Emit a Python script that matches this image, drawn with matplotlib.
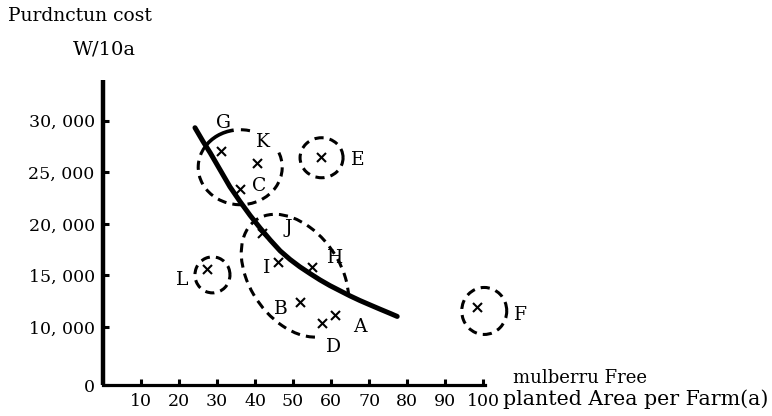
import numpy as np
import matplotlib
matplotlib.use("Agg")
import matplotlib.pyplot as plt
from matplotlib.patches import Arc
from matplotlib.transforms import ScaledTranslation

# ---------------- data ----------------
farm_labels = ["G", "K", "C", "E", "J", "I", "H", "L", "B", "A", "D", "F"]
farm_area = [31.0, 40.5, 36.1, 57.3, 41.8, 46.1, 54.9, 27.3, 51.8, 61.1, 57.6, 98.5]
farm_cost = [27020, 25920, 23400, 26530, 19130, 16310, 15850, 15600, 12460, 11170, 10360, 11970]

curve_area = [24.2, 26.3, 28.2, 30.8, 33.4, 36.1, 38.7, 41.3, 44.0, 46.6, 49.2, 51.8,
              54.5, 57.1, 59.7, 62.4, 65.0, 67.6, 70.3, 72.9, 75.5, 77.4]
curve_cost = [29320, 28000, 26890, 25240, 23590, 22140, 20820, 19610, 18430, 17380, 16550, 15830,
              15170, 14560, 14010, 13500, 13010, 12560, 12130, 11720, 11320, 11020]

x_ticks = [10, 20, 30, 40, 50, 60, 70, 80, 90, 100]
y_ticks = [0, 10000, 15000, 20000, 25000, 30000]
y_tick_labels = ["0", "10, 000", "15, 000", "20, 000", "25, 000", "30, 000"]

# group rings: centre (area, cost)
group_area = [36.1, 57.5, 28.8, 100.3, 50.5]
group_cost = [25490, 26410, 15050, 11550, 14970]

# ---------------- layout / style ----------------
label_offsets = {  # points
    "G": (1.7, 20.7), "K": (4.3, 15.1), "C": (13.7, 2.2), "E": (26.9, -2.4),
    "J": (18.7, 3.6), "H": (16.8, 6.3), "I": (-8.6, -4.3), "L": (-17.8, -7.7),
    "B": (-13.7, -5.3), "A": (18.0, -8.6), "D": (8.1, -17.1), "F": (30.7, -6.0),
}
# ring sizes in inches, angle, arc pieces (theta1, theta2, dashed?)
ring_shapes = [
    (0.84, 0.75, 0, [(150, 385, True), (75, 97, True), (100, 150, False)]),
    (0.43, 0.40, 0, [(0, 360, True)]),
    (0.35, 0.36, 0, [(0, 360, True)]),
    (0.45, 0.47, 0, [(0, 360, True)]),
    (1.36, 0.90, -55, [(33.5, 343.6, True)]),
]

FONT = "DejaVu Serif"
plt.rcParams["font.family"] = [FONT, "DejaVu Sans"]

W, H = 772, 416
fig = plt.figure(figsize=(W / 100, H / 100), dpi=100)
ax = fig.add_axes([103 / W, (H - 385) / H, (485 - 103) / W, (385 - 80) / H])

K = 58 / 103.0


def fwd(y):
    y = np.asarray(y, dtype=float)
    return np.where(y <= 10000, y * K, 10000 * K + (y - 10000))


def inv(f):
    f = np.asarray(f, dtype=float)
    return np.where(f <= 10000 * K, f / K, f - 10000 * K + 10000)


ax.set_yscale("function", functions=(fwd, inv))
ax.set_xlim(0, 100.5)
ax.set_ylim(0, 33950)

for s in ["top", "right"]:
    ax.spines[s].set_visible(False)
ax.spines["left"].set_linewidth(3.2)
ax.spines["bottom"].set_linewidth(2.3)
ax.spines["left"].set_capstyle("butt")

ax.set_xticks(x_ticks)
ax.set_xticklabels([str(t) for t in x_ticks])
ax.set_yticks(y_ticks)
ax.set_yticklabels(y_tick_labels)
ax.minorticks_off()
ax.tick_params(axis="both", direction="in", length=4, width=2.2, labelsize=12.5, colors="black")
ax.tick_params(axis="x", pad=6)
ax.tick_params(axis="y", pad=6)

# trend curve
ax.plot(curve_area, curve_cost, color="black", lw=3.6, solid_capstyle="round",
        solid_joinstyle="round", clip_on=False, zorder=3)

# farm points
ax.scatter(farm_area, farm_cost, marker="x", s=42, color="black", linewidths=1.5,
           clip_on=False, zorder=4)
for lab, xa, yc in zip(farm_labels, farm_area, farm_cost):
    ax.annotate(lab, (xa, yc), xytext=label_offsets[lab], textcoords="offset points",
                ha="center", va="center", fontsize=13.5, annotation_clip=False)

# group rings
for (cx, cy), (w, h, ang, pieces) in zip(zip(group_area, group_cost), ring_shapes):
    tr = fig.dpi_scale_trans + ScaledTranslation(cx, cy, ax.transData)
    for t1, t2, dashed in pieces:
        arc = Arc((0, 0), w, h, angle=ang, theta1=t1, theta2=t2, transform=tr,
                  color="black", lw=2.2 if dashed else 2.6,
                  linestyle=(0, (3, 2)) if dashed else "-", clip_on=False, zorder=2)
        ax.add_patch(arc)

# axis titles
fig.text(8 / W, 1 - 16 / H, "Purdnctun cost", ha="left", va="center", fontsize=13.5)
fig.text(73 / W, 1 - 49 / H, "W/10a", ha="left", va="center", fontsize=14)
fig.text(513 / W, 1 - 378 / H, "mulberru Free", ha="left", va="center", fontsize=13)
fig.text(503 / W, 1 - 399 / H, "planted Area per Farm(a)", ha="left", va="center", fontsize=14.8)

fig.savefig("out.png", dpi=100)
